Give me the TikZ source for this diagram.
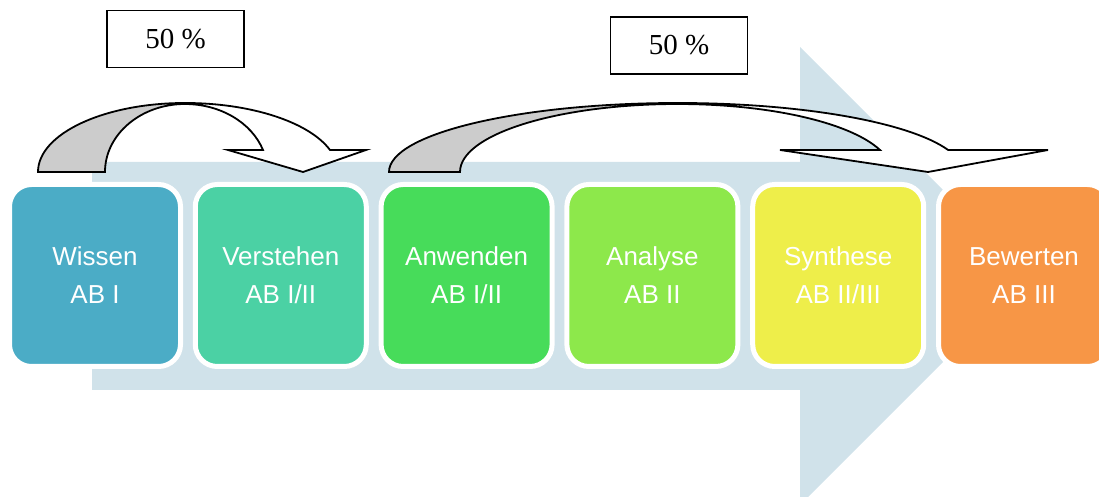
\documentclass[tikz,border=0pt]{standalone}
\usepackage{fontspec}
\setmainfont{Liberation Serif}
\newfontfamily\stagefont{Liberation Sans}
\definecolor{shaftblue}{HTML}{D0E2EA}
\definecolor{cA}{HTML}{4BACC6}
\definecolor{cB}{HTML}{4BD1A4}
\definecolor{cC}{HTML}{47DC5A}
\definecolor{cD}{HTML}{8DE84B}
\definecolor{cE}{HTML}{EEEE4A}
\definecolor{cF}{HTML}{F79646}
\definecolor{backside}{HTML}{CCCCCC}
\tikzset{
  stage/.style={draw=white, line width=5pt, rounded corners=22pt,
    minimum width=171pt, minimum height=182pt, inner sep=0pt,
    text=white, align=center, font=\stagefont\fontsize{26}{38}\selectfont},
  share/.style={draw=black, line width=1.5pt, fill=white,
    minimum width=137pt, minimum height=57pt, inner sep=0pt,
    font=\fontsize{29}{34}\selectfont},
  curvedarrow/.style={draw=black, line width=1.8pt, line join=miter},
}
\begin{document}
\begin{tikzpicture}[x=1pt,y=1pt]
\useasboundingbox (0,0) rectangle (1099,497);

% wide background arrow
\fill[shaftblue] (92,107) -- (800,107) -- (800,-8) -- (1029,221)
  -- (800,450) -- (800,335) -- (92,335) -- cycle;

% the six stages
\node[stage, fill=cA] (wissen)    at (95,221.5)    {Wissen\\AB I};
\node[stage, fill=cB] (verstehen) at (280.8,221.5) {Verstehen\\AB I/II};
\node[stage, fill=cC] (anwenden)  at (466.6,221.5) {Anwenden\\AB I/II};
\node[stage, fill=cD] (analyse)   at (652.4,221.5) {Analyse\\AB II};
\node[stage, fill=cE] (synthese)  at (838.2,221.5) {Synthese\\AB II/III};
\node[stage, fill=cF] (bewerten)  at (1024,221.5)  {Bewerten\\AB III};

% first curved arrow: Wissen -> Verstehen
\filldraw[curvedarrow, fill=backside] (38,325)
  arc[start angle=180, end angle=90, x radius=147, y radius=69]
  -- (185,393)
  arc[start angle=90, end angle=180, x radius=80, y radius=68] -- cycle;
\filldraw[curvedarrow, fill=white] (185,394)
  arc[start angle=90, end angle=18.6, x radius=153, y radius=69]
  -- (366,347) -- (303,325) -- (228,347) -- (263,347)
  arc[start angle=18.9, end angle=90, x radius=82.5, y radius=68] -- cycle;

% second curved arrow: Anwenden -> Bewerten
\filldraw[curvedarrow, fill=backside] (389,325)
  arc[start angle=180, end angle=90, x radius=289, y radius=69]
  -- (678,393)
  arc[start angle=90, end angle=180, x radius=218, y radius=68] -- cycle;
\filldraw[curvedarrow, fill=white] (678,394)
  arc[start angle=90, end angle=18.6, x radius=285, y radius=69]
  -- (1048,347) -- (928,325) -- (780,347) -- (880,347)
  arc[start angle=18.9, end angle=90, x radius=213.5, y radius=68] -- cycle;

% share labels
\node[share] (shareA) at (175.5,458) {50 \%};
\node[share] (shareB) at (679,451.5) {50 \%};
\end{tikzpicture}
\end{document}
